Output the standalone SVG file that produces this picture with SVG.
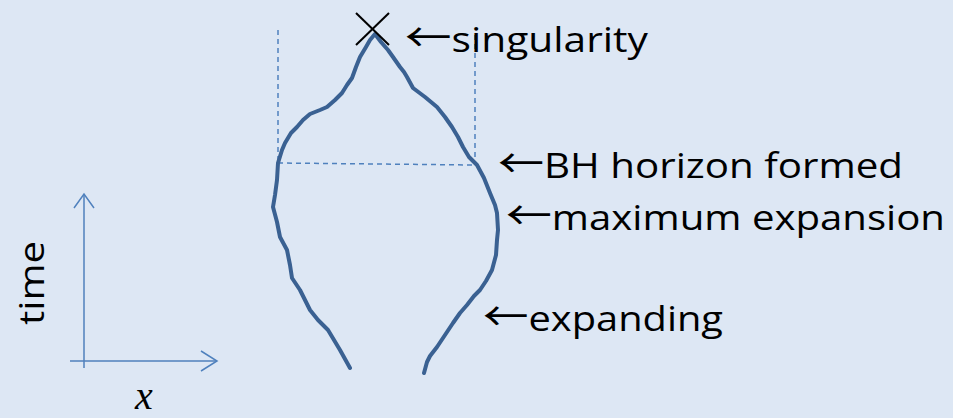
<svg xmlns="http://www.w3.org/2000/svg" width="953" height="418" viewBox="0 0 953 418">
<style>
.lbl{font-family:"Open Sans","Liberation Sans",sans-serif;font-size:35px;fill:#000}
.arr{font-family:"Noto Sans CJK JP","DejaVu Sans",sans-serif;font-size:40px}
.axis{stroke:#4f81bd;stroke-width:1.5;fill:none}
.dash{stroke:#4f81bd;stroke-width:1.5;fill:none;stroke-dasharray:5 4}
.world{stroke:#3a6192;stroke-width:4;fill:none;stroke-linecap:round;stroke-linejoin:round}
</style>
<rect width="953" height="418" fill="#dde7f4"/>
<g id="axes">
<line class="axis" x1="84" y1="194" x2="84" y2="368"/>
<polyline class="axis" points="74,208 84,194 94,208"/>
<line class="axis" x1="70" y1="361" x2="217" y2="361"/>
<polyline class="axis" points="201,351 217,361 201,371"/>
<text class="lbl" transform="translate(44,325) rotate(-90)" textLength="84" lengthAdjust="spacingAndGlyphs">time</text>
<text x="144" y="409" text-anchor="middle" style="font-family:'Liberation Serif',serif;font-style:italic;font-size:40px">x</text>
</g>
<g id="guides">
<line class="dash" x1="278" y1="30" x2="278" y2="163"/>
<line class="dash" x1="475" y1="35" x2="475" y2="165"/>
<line class="dash" x1="278" y1="163" x2="475" y2="165"/>
</g>
<g id="worldline">
<path class="world" d="M350,368 L340,350 L328,330 L318,320 L310,310 L303,296 L300,290 L292,278 L290,265 L287,250 L280,237 L277,222 L273,207 L275,195 L277,180 L278,163 L282,150 L285,143 L291,133 L297,127 L303,120 L310,114 L320,110 L327,107 L335,100 L342,93 L347,85 L352,78 L356,67 L360,57 L366,47 L370,40 L375,34 L381,42 L388,50 L393,57 L400,67 L404,72 L407,77 L413,88 L425,97 L437,107 L445,117 L452,127 L458,137 L463,147 L469,157 L477,165 L484,178 L490,193 L495,205 L497,213 L498,230 L497,240 L496,255 L492,270 L486,281 L480,290 L474,296 L467,305 L460,313 L453,323 L445,335 L437,347 L430,356 L427,362 L424,373"/>
<line x1="356" y1="13" x2="389" y2="45" stroke="#000" stroke-width="2"/>
<line x1="389" y1="13" x2="356" y2="45" stroke="#000" stroke-width="2"/>
</g>
<g id="labels">
<text class="lbl" x="405" y="52" textLength="243" lengthAdjust="spacingAndGlyphs"><tspan class="arr">←</tspan>singularity</text>
<text class="lbl" x="498" y="178" textLength="405" lengthAdjust="spacingAndGlyphs"><tspan class="arr">←</tspan>BH horizon formed</text>
<text class="lbl" x="506" y="230" textLength="439" lengthAdjust="spacingAndGlyphs"><tspan class="arr">←</tspan>maximum expansion</text>
<text class="lbl" x="483" y="331" textLength="240" lengthAdjust="spacingAndGlyphs"><tspan class="arr">←</tspan>expanding</text>
</g>
</svg>
